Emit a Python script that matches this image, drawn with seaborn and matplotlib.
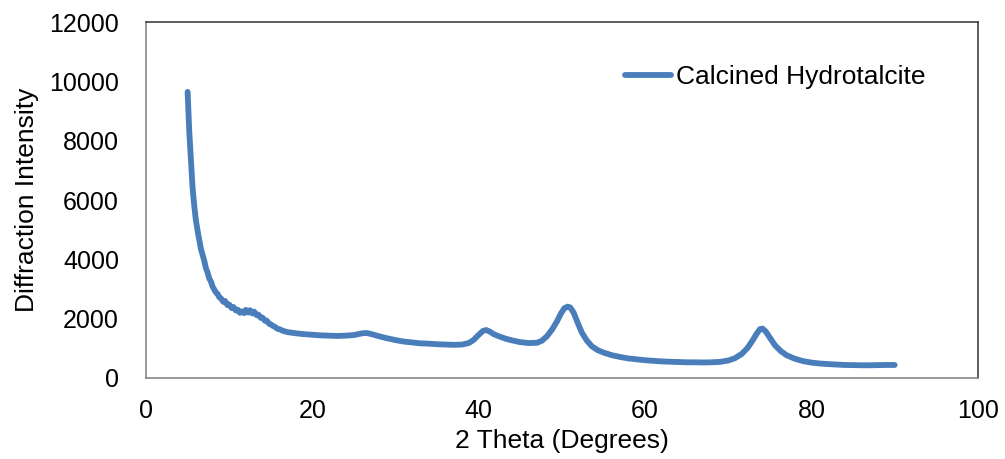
import matplotlib
matplotlib.use("Agg")
import matplotlib.pyplot as plt
import seaborn as sns
import pandas as pd

# 2-theta positions (degrees) and intensities
two_theta = [5.0, 5.2, 5.4, 5.6, 5.8, 6.0, 6.3, 6.6, 7.0, 7.2, 7.4, 7.6, 7.8, 8.0, 8.2,
             8.4, 8.6, 8.8, 9.0, 9.3, 9.5, 9.8, 10.0, 10.3, 10.5, 10.8, 11.0, 11.3, 11.5,
             11.8, 12.0, 12.3, 12.5, 12.8, 13.0, 13.3, 13.5, 13.8, 14.0, 14.3, 14.5, 14.8,
             15.0, 15.3, 15.5, 15.8, 16.0, 16.5, 17.0, 18.0, 19.0, 20.0, 21.0, 22.0, 23.0,
             24.0, 25.0, 26.0, 26.5, 27.0, 28.0, 29.0, 30.0, 31.0, 32.0, 33.0, 34.0, 35.0,
             36.0, 37.0, 38.0, 38.8, 39.4, 40.0, 40.5, 40.9, 41.3, 41.8, 42.5, 43.2, 44.0,
             45.0, 46.0, 47.0, 47.6, 48.2, 48.8, 49.4, 49.9, 50.3, 50.7, 51.0, 51.4, 51.9,
             52.4, 53.0, 53.6, 54.3, 55.0, 56.0, 57.0, 58.0, 59.0, 60.0, 61.0, 62.0, 63.0,
             64.0, 65.0, 66.0, 67.0, 68.0, 69.0, 70.0, 70.8, 71.6, 72.3, 72.9, 73.4, 73.8,
             74.1, 74.5, 75.0, 75.6, 76.3, 77.0, 78.0, 79.0, 80.0, 81.0, 82.0, 83.0, 84.0,
             85.0, 86.0, 87.0, 88.0, 89.0, 90.0]
intensity = [9650, 8300, 7350, 6400, 5800, 5300, 4800, 4350, 3950, 3700, 3550, 3350, 3250,
             3080, 2980, 2880, 2830, 2720, 2680, 2560, 2590, 2450, 2470, 2350, 2390, 2270,
             2300, 2190, 2240, 2180, 2290, 2200, 2280, 2170, 2230, 2110, 2130, 2020, 2030,
             1920, 1930, 1820, 1800, 1740, 1720, 1650, 1640, 1580, 1540, 1500, 1470, 1450,
             1430, 1420, 1410, 1420, 1440, 1500, 1510, 1480, 1400, 1330, 1270, 1220, 1190,
             1160, 1150, 1130, 1120, 1110, 1120, 1170, 1280, 1450, 1580, 1610, 1560, 1470,
             1390, 1320, 1260, 1200, 1170, 1180, 1250, 1400, 1620, 1900, 2180, 2350, 2400,
             2370, 2200, 1850, 1520, 1250, 1060, 930, 850, 760, 700, 650, 620, 590, 570, 550,
             540, 530, 520, 520, 515, 520, 535, 580, 660, 800, 1000, 1250, 1480, 1640, 1660,
             1560, 1350, 1100, 900, 760, 640, 560, 510, 480, 460, 445, 430, 425, 420, 420,
             425, 430, 430]
series_name = "Calcined Hydrotalcite"
x_ticks = [0, 20, 40, 60, 80, 100]
y_ticks = [0, 2000, 4000, 6000, 8000, 10000, 12000]

df = pd.DataFrame({"2theta": two_theta, "intensity": intensity})

sns.set_style("white")
plt.rcParams["font.family"] = ["Liberation Sans", "DejaVu Sans"]
plt.rcParams["text.color"] = "black"
plt.rcParams["axes.labelcolor"] = "black"

fig = plt.figure(figsize=(10.05, 4.59), dpi=100)
ax = fig.add_axes([0.1453, 0.1771, 0.8277, 0.7743])

sns.lineplot(data=df, x="2theta", y="intensity", ax=ax, color="#4A7EBB",
             linewidth=4.2, label=series_name)

ax.set_xlim(0, 100)
ax.set_ylim(0, 12000)
ax.set_xticks(x_ticks)
ax.set_yticks(y_ticks)
ax.tick_params(axis="both", labelsize=18, colors="#868686", labelcolor="black",
               direction="out", length=6.5, width=1)
ax.tick_params(axis="y", pad=13)
ax.tick_params(axis="x", pad=9)
ax.set_xlabel("2 Theta (Degrees)", fontsize=19, labelpad=4, color="black")
ax.set_ylabel("Diffraction Intensity", fontsize=19, labelpad=7, color="black")

for side in ["left", "bottom"]:
    ax.spines[side].set_color("#868686")
    ax.spines[side].set_linewidth(1.2)
for side in ["top", "right"]:
    ax.spines[side].set_color("#404040")
    ax.spines[side].set_linewidth(1.2)

leg = ax.legend(loc="center left", bbox_to_anchor=(0.5757, 0.846), frameon=False,
                fontsize=19, handlelength=1.75, handletextpad=0.2,
                borderpad=0, borderaxespad=0)
for t in leg.get_texts():
    t.set_color("black")

fig.savefig("out.png", dpi=100)
